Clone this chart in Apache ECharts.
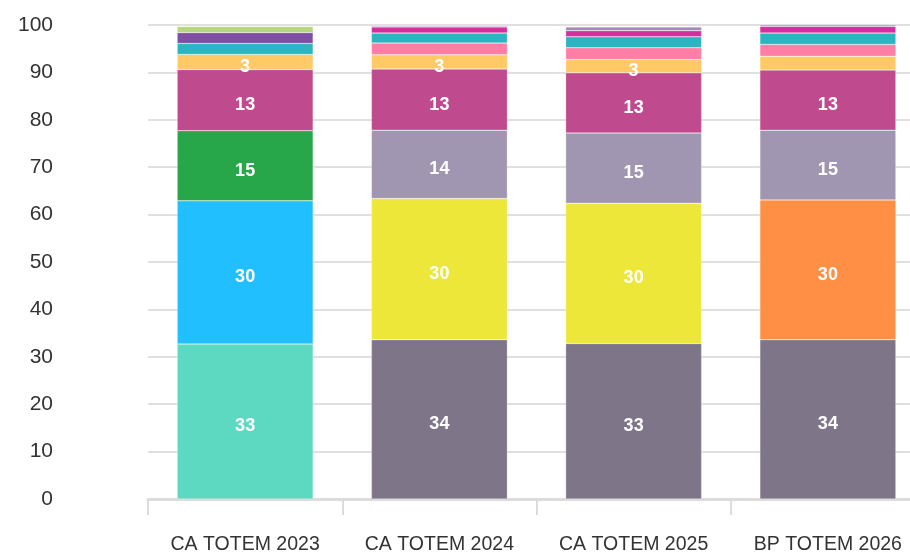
<!DOCTYPE html>
<html><head><meta charset="utf-8">
<script src="https://cdn.jsdelivr.net/npm/echarts@6/dist/echarts.min.js"></script>
<style>html,body{margin:0;padding:0;background:#fff}#c{width:910px;height:552px}</style>
</head><body><div id="c"></div>
<script>
const categories = ['CA TOTEM 2023','CA TOTEM 2024','CA TOTEM 2025','BP TOTEM 2026'];
const yTicks = [0,10,20,30,40,50,60,70,80,90,100];
// stack levels, bottom to top
const level1 = [32.7, 33.6, 32.8, 33.6];
const level2 = [30.2, 29.8, 29.6, 29.5];
const level3 = [14.8, 14.4, 14.8, 14.7];
const level4 = [12.9, 12.9, 12.7, 12.7];
const level5 = [3.2, 3.0, 2.8, 2.9];
const level6 = [2.3, 2.5, 2.5, 2.5];
const level7 = [2.3, 2.1, 2.3, 2.4];
const level8 = [1.3, 1.3, 1.3, 1.4];
const level9 = [0, 0.2, 0.8, 0.3];
const labelShown = [
  [true,true,true,true],[true,true,true,true],[true,true,true,true],[true,true,true,true],
  [true,true,true,false],[false,false,false,false],[false,false,false,false],[false,false,false,false],[false,false,false,false]
];
const colors = [
  ['#5dd9c1','#7e7589','#7e7589','#7e7589'],
  ['#22bfff','#ede73a','#ede73a','#ff8f45'],
  ['#27a74a','#a196b1','#a196b1','#a196b1'],
  ['#c04a8e','#c04a8e','#c04a8e','#c04a8e'],
  ['#ffc966','#ffc966','#ffc966','#ffc966'],
  ['#2ab5c0','#ff7ea6','#ff7ea6','#ff7ea6'],
  ['#7f4fa3','#2ab5c0','#2ab5c0','#2ab5c0'],
  ['#b5d67c','#d62f9c','#d62f9c','#d62f9c'],
  ['#9e76c0','#9e76c0','#a38bb5','#9e76c0']
];
const levels = [level1,level2,level3,level4,level5,level6,level7,level8,level9];
const series = levels.map((arr, i) => ({
  type: 'bar', stack: 'total', barWidth: '70%',
  data: arr.map((v, j) => ({
    value: v,
    itemStyle: { color: colors[i][j] },
    label: { show: labelShown[i][j] }
  })),
  itemStyle: { borderColor: 'rgba(255,255,255,0.5)', borderWidth: 0.5 },
  label: {
    position: 'inside', offset: [0, 5], color: '#fff', fontWeight: 'bold',
    fontSize: 18, fontFamily: 'Liberation Sans',
    formatter: p => Math.round(p.value)
  }
}));
const chart = echarts.init(document.getElementById('c'));
chart.setOption({
  animation: false,
  grid: { left: 148, width: 777, top: 25, bottom: 53, containLabel: false, outerBoundsMode: 'none' },
  xAxis: {
    type: 'category', data: categories,
    axisLine: { lineStyle: { color: '#dcdcdc', width: 3 } },
    axisTick: { show: true, length: 16, lineStyle: { color: '#dcdcdc', width: 2 } },
    axisLabel: { color: '#333', fontSize: 19.5, margin: 36, interval: 0, hideOverlap: false, fontFamily: 'Liberation Sans' }
  },
  yAxis: {
    type: 'value', min: yTicks[0], max: yTicks[yTicks.length-1], interval: 10,
    axisLine: { show: false }, axisTick: { show: false },
    splitLine: { lineStyle: { color: '#e0e0e0', width: 2 } },
    axisLabel: { color: '#333', fontSize: 21, margin: 95, fontFamily: 'Liberation Sans' }
  },
  series
});
</script></body></html>
